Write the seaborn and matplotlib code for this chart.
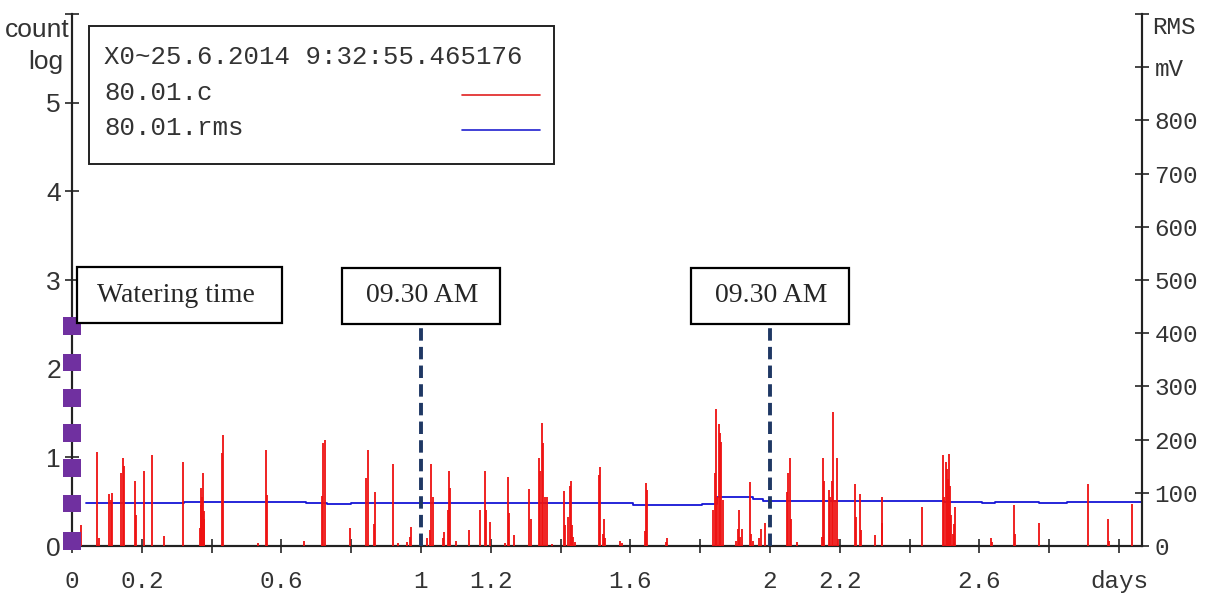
import matplotlib
matplotlib.use("Agg")
import matplotlib.pyplot as plt
import seaborn as sns
from matplotlib.patches import Rectangle

# acoustic emission counts (log) – one spike per burst
spike_days = [0.026, 0.072, 0.078, 0.106, 0.111, 0.116, 0.140, 0.147, 0.150, 0.181,
              0.184, 0.205, 0.228, 0.264, 0.319, 0.366, 0.369, 0.371, 0.373, 0.375,
              0.377, 0.379, 0.429, 0.433, 0.533, 0.557, 0.560, 0.665, 0.715, 0.720,
              0.726, 0.796, 0.842, 0.849, 0.865, 0.869, 0.919, 0.935, 0.960, 0.968,
              0.972, 1.016, 1.026, 1.029, 1.033, 1.063, 1.066, 1.077, 1.081, 1.083,
              1.100, 1.137, 1.169, 1.182, 1.186, 1.198, 1.241, 1.250, 1.252, 1.267,
              1.310, 1.314, 1.338, 1.341, 1.348, 1.351, 1.356, 1.360, 1.375, 1.410,
              1.413, 1.422, 1.426, 1.429, 1.432, 1.436, 1.441, 1.511, 1.514, 1.522,
              1.525, 1.528, 1.570, 1.575, 1.642, 1.644, 1.647, 1.702, 1.705, 1.838,
              1.842, 1.845, 1.848, 1.855, 1.858, 1.861, 1.865, 1.904, 1.907, 1.911,
              1.915, 1.921, 1.943, 1.947, 1.951, 1.968, 1.973, 1.986, 2.049, 2.053,
              2.057, 2.060, 2.078, 2.150, 2.153, 2.155, 2.169, 2.173, 2.177, 2.182,
              2.186, 2.191, 2.195, 2.243, 2.246, 2.258, 2.261, 2.302, 2.320, 2.322,
              2.437, 2.496, 2.499, 2.503, 2.506, 2.509, 2.512, 2.516, 2.520, 2.524,
              2.526, 2.530, 2.634, 2.637, 2.699, 2.702, 2.771, 2.912, 2.969, 2.972,
              3.036]
spike_counts = [0.24, 1.06, 0.09, 0.59, 0.52, 0.60, 0.82, 0.99, 0.90, 0.73,
                0.35, 0.85, 1.03, 0.11, 0.95, 0.20, 0.46, 0.65, 0.55, 0.82,
                0.40, 0.30, 1.05, 1.25, 0.03, 1.08, 0.57, 0.06, 0.56, 1.16,
                1.20, 0.20, 0.77, 1.08, 0.25, 0.61, 0.93, 0.03, 0.04, 0.10,
                0.21, 0.09, 0.18, 0.93, 0.55, 0.09, 0.16, 0.41, 0.85, 0.65,
                0.06, 0.18, 0.41, 0.85, 0.41, 0.27, 0.03, 0.78, 0.37, 0.12,
                0.64, 0.30, 0.99, 0.85, 1.39, 1.16, 0.55, 0.55, 0.02, 0.62,
                0.24, 0.33, 0.68, 0.73, 0.24, 0.10, 0.05, 0.80, 0.89, 0.14,
                0.30, 0.09, 0.06, 0.03, 0.17, 0.71, 0.63, 0.04, 0.09, 0.41,
                0.82, 1.54, 0.55, 1.38, 1.27, 1.17, 0.52, 0.06, 0.19, 0.41,
                0.10, 0.19, 0.72, 0.14, 0.06, 0.09, 0.19, 0.26, 0.61, 0.82,
                0.99, 0.30, 0.05, 0.10, 0.99, 0.73, 0.63, 0.55, 0.73, 1.51,
                0.52, 0.99, 0.08, 0.70, 0.33, 0.59, 0.18, 0.12, 0.55, 0.26,
                0.44, 1.03, 0.55, 0.95, 0.87, 0.76, 1.04, 0.68, 0.35, 0.13,
                0.25, 0.44, 0.09, 0.05, 0.46, 0.13, 0.26, 0.70, 0.30, 0.06,
                0.47]

# RMS level (mV), step changes
rms_days = [0.04, 0.32, 0.56, 0.67, 0.73, 0.80, 0.96, 1.607, 1.806, 1.847,
            1.95, 1.98, 2.50, 2.607, 2.645, 2.77, 2.852, 3.066]
rms_mv = [81.5, 83.5, 82.5, 81, 79.5, 81.5, 80.5, 78, 79, 92,
          88, 85, 83, 80.5, 82, 81, 83, 83]

marker_counts = [0.06, 0.48, 0.88, 1.27, 1.67, 2.07, 2.48]
watering_days = [1, 2]
watering_labels = ["09.30 AM", "09.30 AM"]

x_ticks = [0, 0.2, 0.4, 0.6, 0.8, 1.0, 1.2, 1.4, 1.6, 1.8, 2.0, 2.2, 2.4, 2.6, 2.8, 3.0]
x_labels = ["0", "0.2", "", "0.6", "", "1", "1.2", "", "1.6", "", "2", "2.2", "", "2.6", "", "days"]
left_ticks = [0, 1, 2, 3, 4, 5, 6]
left_labels = ["0", "1", "2", "3", "4", "5", ""]
right_ticks = [0, 100, 200, 300, 400, 500, 600, 700, 800, 900, 1000]
right_labels = ["0", "100", "200", "300", "400", "500", "600", "700", "800", "mV", ""]

sns.set_style("ticks")
plt.rcParams["font.family"] = ["Liberation Mono", "DejaVu Sans"]

fig = plt.figure(figsize=(12.05, 5.97), dpi=100)
ax = fig.add_axes([72 / 1205, 51 / 597, 1070 / 1205, 532 / 597])
ax2 = ax.twinx()

ax.vlines(spike_days, 0, spike_counts, colors="#EE1111", lw=1.3, zorder=3)

sns.lineplot(x=rms_days, y=rms_mv, ax=ax2, color="#1515D5", lw=1.3,
             drawstyle="steps-post", estimator=None, sort=True)

# watering markers on the count axis
sns.scatterplot(x=[0] * len(marker_counts), y=marker_counts, ax=ax,
                marker="s", s=165, color="#7030A0", edgecolor="none", zorder=6)
for c in ax.collections:
    c.set_clip_on(False)

ax.vlines(watering_days, 0, 2.5, colors="#1F3864", lw=2.8,
          linestyles=(0, (3.2, 1.6)), zorder=4)

# callout boxes
box_kw = dict(fill=True, fc="white", ec="black", lw=1.6, zorder=7, clip_on=False)
ax.add_patch(Rectangle((0.015, 2.51), 0.588, 0.64, **box_kw))
ax.text(0.299, 2.83, "Watering time", ha="center", va="center", fontsize=20,
        family="Liberation Serif", zorder=8)
for d, lab in zip(watering_days, watering_labels):
    ax.add_patch(Rectangle((d - 0.225, 2.50), 0.45, 0.63, **box_kw))
    ax.text(d + 0.003, 2.82, lab, ha="center", va="center", fontsize=20,
            family="Liberation Serif", zorder=8)

# legend box
ax.add_patch(Rectangle((0.0159, 0.718), 0.4346, 0.259, transform=ax.transAxes,
                       fc="white", ec="#222222", lw=1.4, zorder=7))
ax.text(0.0299, 0.919, "X0~25.6.2014 9:32:55.465176", transform=ax.transAxes,
        fontsize=18.5, va="center", color="#333333", zorder=8)
ax.text(0.0299, 0.8515, "80.01.c", transform=ax.transAxes,
        fontsize=18.5, va="center", color="#333333", zorder=8)
ax.text(0.0299, 0.7857, "80.01.rms", transform=ax.transAxes,
        fontsize=18.5, va="center", color="#333333", zorder=8)
ax.plot([0.3645, 0.4374], [0.8477, 0.8477], transform=ax.transAxes,
        color="#E02020", lw=1.2, zorder=8)
ax.plot([0.3645, 0.4374], [0.782, 0.782], transform=ax.transAxes,
        color="#2020D0", lw=1.2, zorder=8)

ax.set_xlim(0, 3.066)
ax.set_ylim(0, 6)
ax2.set_ylim(0, 1000)
ax.set_zorder(ax2.get_zorder() + 1)
ax.patch.set_visible(False)

ax.set_xticks(x_ticks)
ax.set_xticklabels(x_labels)
ax.set_yticks(left_ticks)
ax.set_yticklabels(left_labels)
ax2.set_yticks(right_ticks)
ax2.set_yticklabels(right_labels)

ax.tick_params(axis="x", direction="inout", length=10, width=1.2, pad=12,
               labelsize=17.5, labelcolor="#333333")
ax.tick_params(axis="y", direction="inout", length=10, width=1.2, pad=3,
               labelsize=19, labelcolor="#333333")
ax2.tick_params(axis="y", direction="inout", length=10, width=1.2, pad=4,
                labelsize=17.5, labelcolor="#333333")
for lab in ax.get_yticklabels():
    lab.set_family("Liberation Sans")

ax.set_xlabel("")
ax.set_ylabel("")
ax2.set_ylabel("")
for a in (ax, ax2):
    a.spines["top"].set_visible(False)
    for s in ("left", "right", "bottom"):
        a.spines[s].set_linewidth(1.5)
        a.spines[s].set_color("#222222")

fig.text(70 / 1205, 1 - 30 / 597, "count", ha="right", va="center", fontsize=19,
         family="Liberation Sans", color="#333333")
fig.text(63 / 1205, 1 - 62 / 597, "log", ha="right", va="center", fontsize=19,
         family="Liberation Sans", color="#333333")
fig.text(1152 / 1205, 1 - 27 / 597, "RMS", ha="left", va="center", fontsize=17.5,
         color="#333333")

fig.savefig("out.png", dpi=100)
